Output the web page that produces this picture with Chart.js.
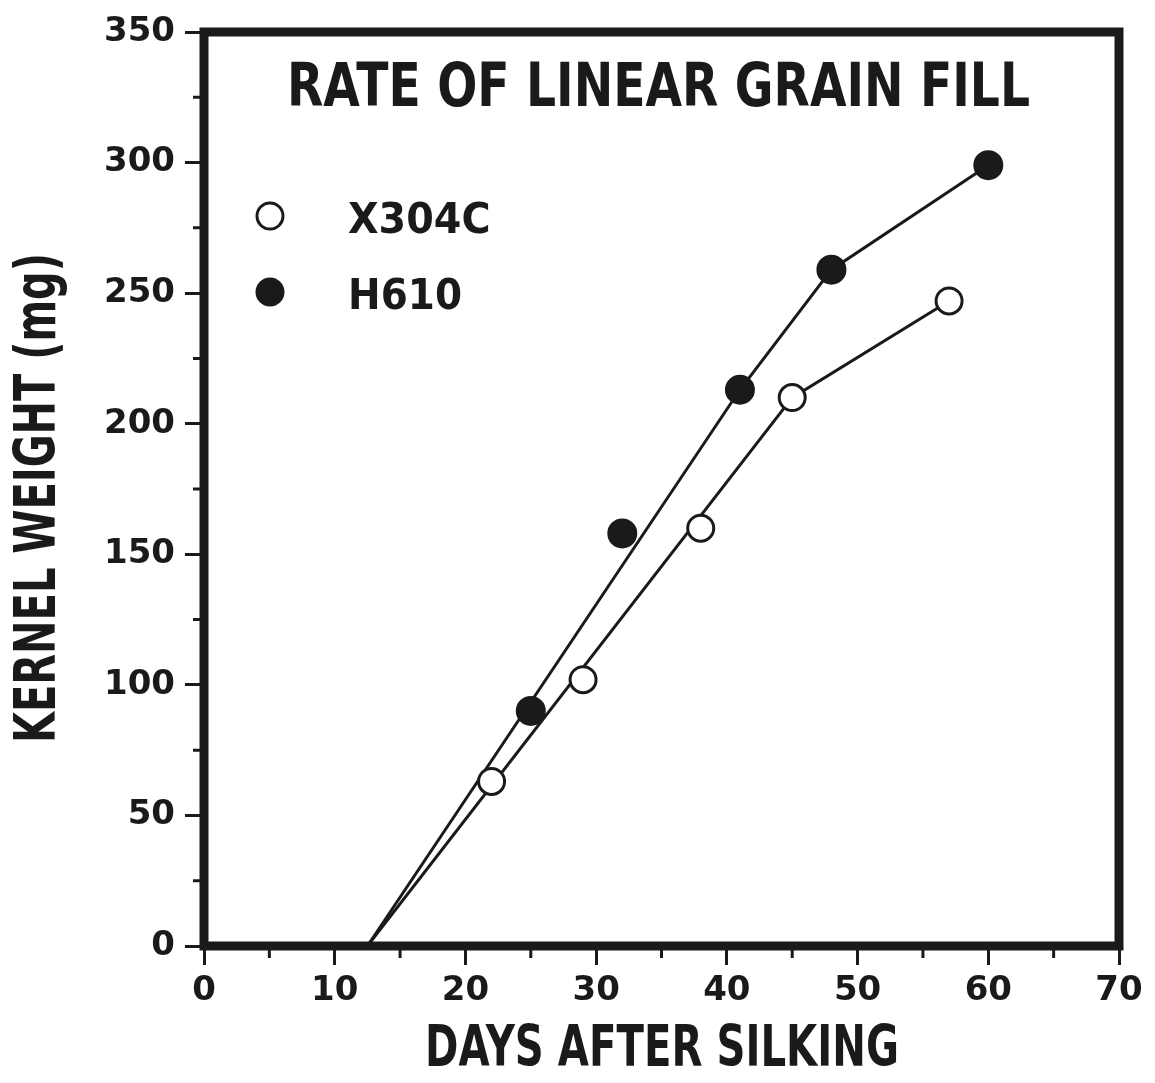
<!DOCTYPE html>
<html>
<head>
<meta charset="utf-8">
<title>Rate of linear grain fill</title>
<script src="https://cdn.jsdelivr.net/npm/chart.js@4.4.0/dist/chart.umd.min.js"></script>
<style>
  html, body { margin: 0; padding: 0; background: #ffffff; }
  #chart { display: block; }
</style>
</head>
<body>
<canvas id="chart" width="1155" height="1083"></canvas>
<script>
// Data
const x304cDays = [22, 29, 38, 45, 57];
const x304cWeight = [63, 102, 160, 210, 247];
const h610Days = [25, 32, 41, 48, 60];
const h610Weight = [90, 158, 213, 259, 299];

// Fitted lines (linear phase from x-intercept, then joined to late points)
const x304cFitDays = [12.5, 45, 57];
const x304cFitWeight = [0, 210, 247];
const h610FitDays = [12.5, 41, 48, 60];
const h610FitWeight = [0, 213, 259, 299];

const xRange = [0, 70];
const yRange = [0, 350];
const xMinorTicks = [5, 15, 25, 35, 45, 55, 65];
const yMinorTicks = [25, 75, 125, 175, 225, 275, 325];

const ink = '#1a1a1a';

function toPoints(xs, ys) {
    return xs.map((x, i) => ({ x: x, y: ys[i] }));
}

// Frame, minor ticks, titles and legend
const decorPlugin = {
    id: 'decor',
    afterDraw(chart) {
        const ctx = chart.ctx;
        const area = chart.chartArea;
        const xs = chart.scales.x;
        const ys = chart.scales.y;
        ctx.save();
        ctx.strokeStyle = ink;
        ctx.fillStyle = ink;

        // minor ticks
        ctx.lineWidth = 3;
        ctx.beginPath();
        xMinorTicks.forEach(v => {
            const px = xs.getPixelForValue(v);
            ctx.moveTo(px, area.bottom);
            ctx.lineTo(px, area.bottom + 12);
        });
        yMinorTicks.forEach(v => {
            const py = ys.getPixelForValue(v);
            ctx.moveTo(area.left, py);
            ctx.lineTo(area.left - 11, py);
        });
        ctx.stroke();

        // heavy frame
        ctx.lineWidth = 9;
        ctx.strokeRect(area.left, area.top, area.right - area.left, area.bottom - area.top);

        // title inside the frame
        ctx.font = 'bold 60px "DejaVu Sans"';
        ctx.textAlign = 'left';
        ctx.textBaseline = 'alphabetic';
        ctx.fillText('RATE OF LINEAR GRAIN FILL', 287, 106, 743);

        // x axis title
        ctx.font = 'bold 57px "DejaVu Sans"';
        ctx.textAlign = 'center';
        ctx.fillText('DAYS AFTER SILKING', 662, 1066, 474);

        // y axis title
        ctx.save();
        ctx.translate(55, 498);
        ctx.rotate(-Math.PI / 2);
        ctx.fillText('KERNEL WEIGHT (mg)', 0, 0, 490);
        ctx.restore();

        // legend
        const entries = chart.data.datasets.filter(d => d.legend);
        entries.forEach((d, i) => {
            const cy = 216 + i * 76;
            ctx.beginPath();
            ctx.arc(270, cy, 13, 0, Math.PI * 2);
            ctx.fillStyle = d.pointBackgroundColor;
            ctx.fill();
            ctx.lineWidth = 3;
            ctx.strokeStyle = ink;
            ctx.stroke();
            ctx.fillStyle = ink;
            ctx.font = 'bold 42px "DejaVu Sans"';
            ctx.textAlign = 'left';
            ctx.fillText(d.label, 348, cy + 17, d.label.length * 28.5);
        });
        ctx.restore();
    }
};

new Chart(document.getElementById('chart'), {
    type: 'scatter',
    data: {
        datasets: [
            {
                label: 'X304C',
                legend: true,
                data: toPoints(x304cDays, x304cWeight),
                pointRadius: 13,
                pointBorderWidth: 3,
                pointBackgroundColor: '#ffffff',
                pointBorderColor: ink,
                showLine: false,
                order: 1
            },
            {
                label: 'H610',
                legend: true,
                data: toPoints(h610Days, h610Weight),
                pointRadius: 14,
                pointBorderWidth: 2,
                pointBackgroundColor: ink,
                pointBorderColor: ink,
                showLine: false,
                order: 1
            },
            {
                label: 'X304C fit',
                data: toPoints(x304cFitDays, x304cFitWeight),
                showLine: true,
                borderColor: ink,
                borderWidth: 3,
                pointRadius: 0,
                order: 2
            },
            {
                label: 'H610 fit',
                data: toPoints(h610FitDays, h610FitWeight),
                showLine: true,
                borderColor: ink,
                borderWidth: 3,
                pointRadius: 0,
                order: 2
            }
        ]
    },
    options: {
        responsive: false,
        animation: false,
        layout: { padding: { top: 32, right: 36, left: 0, bottom: 0 } },
        plugins: {
            legend: { display: false },
            tooltip: { enabled: false },
            title: { display: false }
        },
        scales: {
            x: {
                type: 'linear',
                min: xRange[0],
                max: xRange[1],
                afterFit(scale) { scale.height = 137; },
                border: { display: false },
                grid: {
                    drawOnChartArea: false,
                    drawTicks: true,
                    tickLength: 19,
                    tickWidth: 3,
                    tickColor: ink
                },
                ticks: {
                    stepSize: 10,
                    color: ink,
                    padding: 6,
                    maxRotation: 0,
                    font: { family: 'DejaVu Sans', size: 34, weight: 'bold' }
                }
            },
            y: {
                type: 'linear',
                min: yRange[0],
                max: yRange[1],
                afterFit(scale) { scale.width = 204; },
                border: { display: false },
                grid: {
                    drawOnChartArea: false,
                    drawTicks: true,
                    tickLength: 19,
                    tickWidth: 3,
                    tickColor: ink
                },
                ticks: {
                    stepSize: 50,
                    color: ink,
                    padding: 10,
                    font: { family: 'DejaVu Sans', size: 34, weight: 'bold' }
                }
            }
        }
    },
    plugins: [decorPlugin]
});
</script>
</body>
</html>
